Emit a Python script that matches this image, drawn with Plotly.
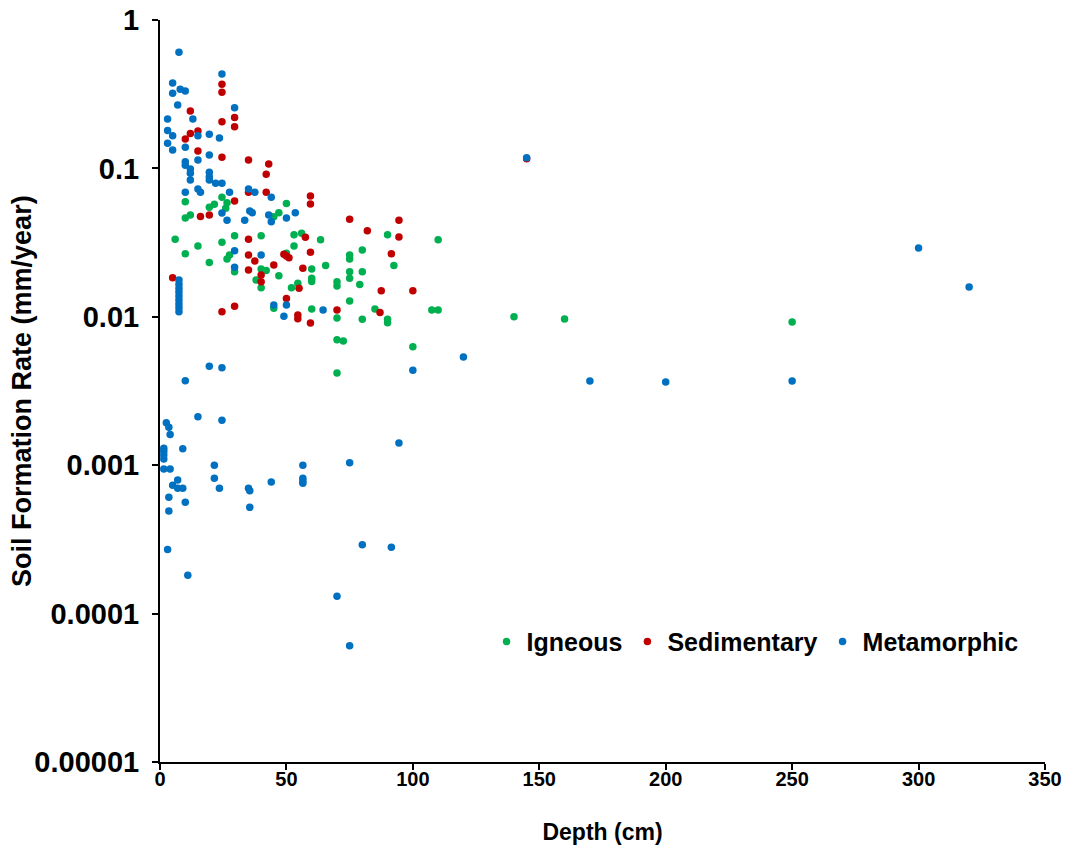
import plotly.graph_objects as go

# Depth (cm) and soil formation rate (mm/year) by parent material
igneous_depth = [
    24.5, 10, 26.5, 26, 19.5, 21.5, 10, 12, 47, 45, 50,
    6, 15, 24.5, 29.5, 40, 10, 19.5, 26.5, 27.5, 29.5,
    53, 56, 53, 50, 40, 42, 47, 38, 40, 52, 54.5, 45, 60,
    63.5, 80, 75, 75, 90, 110, 92.5, 65.5, 60, 75, 75, 80,
    60, 60, 70, 70, 79, 75, 85, 70, 80, 90, 90, 107.5, 110,
    70, 72.5, 100, 70, 140, 160, 250,
]
igneous_rate = [
    0.0639, 0.0597, 0.0587, 0.0538, 0.0547, 0.0573, 0.0463, 0.0485, 0.0503, 0.0473, 0.0580,
    0.0333, 0.0300, 0.0318, 0.0352, 0.0352, 0.0266, 0.0232, 0.0245, 0.0261, 0.0201,
    0.0357, 0.0365, 0.0300, 0.0268, 0.0210, 0.0205, 0.0189, 0.0177, 0.0157, 0.0157, 0.0168, 0.0114, 0.0113,
    0.0331, 0.0282, 0.0261, 0.0245, 0.0357, 0.0331, 0.0222, 0.0222, 0.0210, 0.0201, 0.0182, 0.0201,
    0.0182, 0.0173, 0.0172, 0.0161, 0.0165, 0.0128, 0.0113, 0.00982, 0.00962, 0.00962, 0.00912, 0.0111, 0.0111,
    0.00701, 0.00687, 0.00629, 0.00418, 0.0100, 0.00967, 0.00922,
]

sedimentary_depth = [
    24.5, 24.5, 12, 24.5, 29.5, 29.5, 12, 15, 10, 15, 24.5, 35, 43,
    42, 35, 42, 29.5, 16, 19.5, 35, 35, 37.5, 35, 45, 49, 50, 51,
    56.5, 40, 40, 5, 55, 50, 59.5, 59.5, 75, 82, 94.5, 94.5, 57.5,
    59.5, 91.5, 87.5, 100, 70, 87, 54.5, 54.5, 59.5, 24.5, 29.5, 145,
]
sedimentary_rate = [
    0.369, 0.326, 0.244, 0.206, 0.220, 0.191, 0.172, 0.179, 0.158, 0.131, 0.119, 0.114, 0.107,
    0.0913, 0.0690, 0.0690, 0.0603, 0.0475, 0.0485, 0.0333, 0.0261, 0.0238, 0.0207, 0.0223, 0.0264, 0.0257, 0.0250,
    0.0212, 0.0191, 0.0172, 0.0183, 0.0156, 0.0133, 0.0652, 0.0575, 0.0454, 0.0380, 0.0447, 0.0345, 0.0343,
    0.0272, 0.0266, 0.0150, 0.0150, 0.0111, 0.0107, 0.0103, 0.00971, 0.00908, 0.0108, 0.0118, 0.116,
]

metamorphic_depth = [
    7.5, 24.5, 5, 5, 8, 10, 7, 29.5, 3, 13, 3, 5, 15, 19.5, 23.5, 3, 10, 5, 19.5, 15, 10, 10,
    12, 12, 12, 19.5, 19.5, 19.5, 22, 24.5, 15, 16, 10, 27.5, 35, 37.5, 44,
    24.5, 26.5, 33.5, 35.5, 36.5, 43, 44, 50, 53.5, 29.5, 40, 29.5,
    7.5, 7.5, 7.5, 7.5, 7.5, 7.5, 7.5, 7.5, 7.5,
    45, 50, 49, 64.5,
    19.5, 24.5, 10, 15, 24.5, 2.5, 3.5, 4, 9,
    1.5, 1.5, 1.5, 1.5,
    1.5, 4, 21.5, 56.5, 75, 21.5, 56.5, 56.5, 56.5, 44,
    7, 5, 7, 9, 23.5, 35, 35.5, 3.5, 10, 3.5, 35.5, 3, 11, 70,
    120, 100, 94.5, 80, 91.5, 75, 145, 170, 200, 250, 300, 320,
]
metamorphic_rate = [
    0.606, 0.433, 0.376, 0.321, 0.341, 0.332, 0.267, 0.256, 0.215, 0.215, 0.180, 0.166, 0.166, 0.170, 0.160, 0.148, 0.139, 0.133, 0.123, 0.114, 0.111, 0.105,
    0.0991, 0.0927, 0.0835, 0.0942, 0.0879, 0.0835, 0.0794, 0.0794, 0.0727, 0.0690, 0.0690, 0.0690, 0.0727, 0.0690, 0.0639,
    0.0500, 0.0447, 0.0447, 0.0516, 0.0503, 0.0485, 0.0437, 0.0463, 0.0503, 0.0279, 0.0261, 0.0216,
    0.0177, 0.0166, 0.0156, 0.0147, 0.0138, 0.0130, 0.0122, 0.0115, 0.0108,
    0.0120, 0.0120, 0.0101, 0.0111,
    0.00464, 0.00454, 0.00371, 0.00212, 0.00201, 0.00193, 0.00180, 0.00161, 0.00129,
    0.00130, 0.00124, 0.00117, 0.00110,
    0.000942, 0.000942, 0.00100, 0.00100, 0.00104, 0.000816, 0.000816, 0.000783, 0.000755, 0.000771,
    0.000795, 0.000732, 0.000699, 0.000699, 0.000699, 0.000700, 0.000673, 0.000608, 0.000562, 0.000491, 0.000520, 0.000270, 0.000181, 0.000131,
    0.00536, 0.00436, 0.00141, 0.000291, 0.000280, 0.0000608, 0.118, 0.00369, 0.00364, 0.00369, 0.0291, 0.0159,
]

series_names = ["Igneous", "Sedimentary", "Metamorphic"]
series_colors = ["#00B050", "#C00000", "#0070C0"]

y_tick_values = [1, 0.1, 0.01, 0.001, 0.0001, 0.00001]
y_tick_labels = ["1", "0.1", "0.01", "0.001", "0.0001", "0.00001"]
x_tick_values = [0, 50, 100, 150, 200, 250, 300, 350]

FONT = "Liberation Sans, Arial, sans-serif"

fig = go.Figure()
for name, color, xs, ys in zip(
    series_names,
    series_colors,
    [igneous_depth, sedimentary_depth, metamorphic_depth],
    [igneous_rate, sedimentary_rate, metamorphic_rate],
):
    fig.add_trace(go.Scatter(
        x=xs, y=ys, mode="markers", name=name,
        marker=dict(color=color, size=7.5, line=dict(width=0)),
    ))

axis_common = dict(
    showline=True, linecolor="black", linewidth=2,
    ticks="outside", ticklen=6, tickwidth=2, tickcolor="black",
    showgrid=False, zeroline=False, mirror=False, automargin=False,
)

fig.update_layout(
    width=1075, height=850,
    margin=dict(l=160, r=30, t=20, b=88),
    paper_bgcolor="white", plot_bgcolor="white",
    font=dict(family=FONT, color="black"),
    xaxis=dict(
        range=[0, 350], tickvals=x_tick_values,
        tickfont=dict(family=FONT, size=20, weight="bold"),
        ticklabelstandoff=-8,
        title=dict(text="Depth (cm)", font=dict(family=FONT, size=23, weight="bold"), standoff=35),
        **axis_common,
    ),
    yaxis=dict(
        type="log", range=[-5, 0],
        tickvals=y_tick_values, ticktext=y_tick_labels,
        tickfont=dict(family=FONT, size=29, weight="bold"),
        ticklabelstandoff=7,
        **axis_common,
    ),
    legend=dict(
        orientation="h", x=0.369, y=0.162, xanchor="left", yanchor="middle",
        font=dict(family=FONT, size=25, weight="bold"),
        bgcolor="rgba(0,0,0,0)", itemwidth=30, tracegroupgap=0,
    ),
    annotations=[
        dict(
            text="Soil Formation Rate (mm/year)", textangle=-90,
            xref="paper", yref="paper", x=-0.156, y=0.5,
            xanchor="center", yanchor="middle", showarrow=False,
            font=dict(family=FONT, size=27, weight="bold", color="black"),
        ),
    ],
    showlegend=True,
)

fig.write_html("out.html")
